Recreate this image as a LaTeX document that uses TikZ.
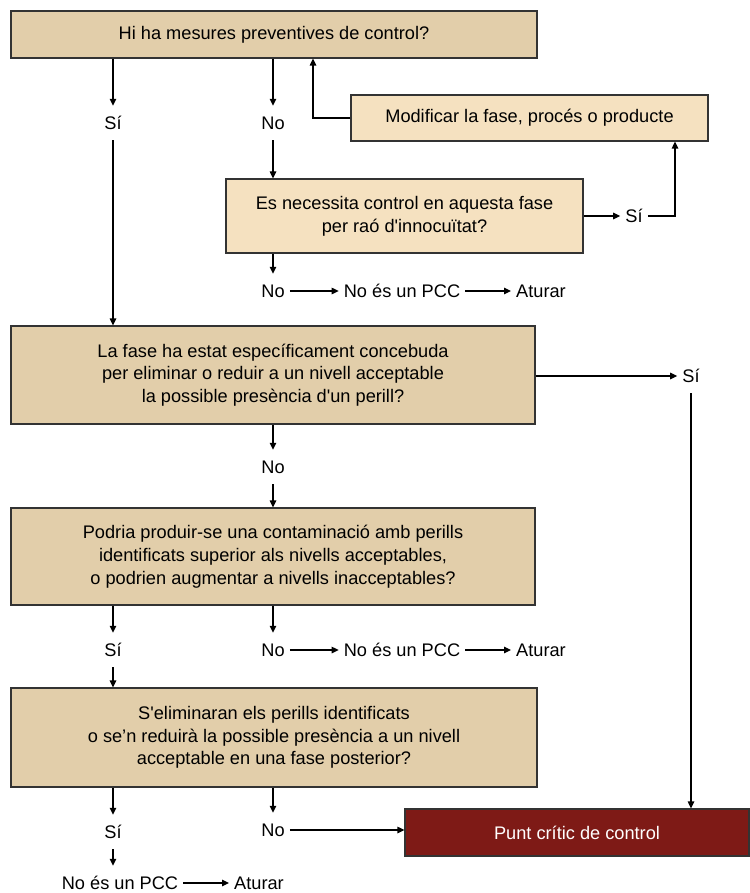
\documentclass[tikz,border=0pt]{standalone}
\usepackage{fontspec}
\setmainfont{Liberation Sans}[Ligatures=TeXOff]
\usetikzlibrary{arrows.meta}
\definecolor{tanD}{HTML}{E2CEAA}
\definecolor{tanL}{HTML}{F5E1C0}
\definecolor{pccred}{HTML}{7E1A16}
\definecolor{edge}{HTML}{333333}
\begin{document}
\begin{tikzpicture}[x=1pt,y=-1pt,
  font=\fontsize{18.2}{22.7}\selectfont,
  box/.style={draw=edge, line width=1.2pt, align=center, inner sep=0pt},
  dbox/.style={box, fill=tanD},
  lbox/.style={box, fill=tanL},
  lab/.style={inner xsep=5pt, inner ysep=10.5pt, text height=13pt, text depth=0pt},
  arr/.style={-{Triangle[length=7pt,width=6.5pt]}, line width=1.2pt, draw=black},
  ln/.style={line width=1.2pt, draw=black}]
\useasboundingbox (0,0) rectangle (749,893);

% boxes
\node[dbox, minimum width=526pt, minimum height=47pt] (q1) at (274,34.5) {Hi ha mesures preventives de control?};
\node[lbox, minimum width=357pt, minimum height=46pt] (mod) at (529.5,118) {Modificar la fase, procés o producte};
\node[lbox, minimum width=357pt, minimum height=74pt] (q2) at (404.5,216) {Es necessita control en aquesta fase\\per raó d'innocuïtat?};
\node[dbox, minimum width=524pt, minimum height=98pt] (q3) at (273,375) {La fase ha estat específicament concebuda\\per eliminar o reduir a un nivell acceptable\\la possible presència d'un perill?};
\node[dbox, minimum width=524pt, minimum height=97pt] (q4) at (273,556.5) {Podria produir-se una contaminació amb perills\\identificats superior als nivells acceptables,\\o podrien augmentar a nivells inacceptables?};
\node[dbox, minimum width=526pt, minimum height=99pt] (q5) at (274,737.5) {S'eliminaran els perills identificats\\o se’n reduirà la possible presència a un nivell\\acceptable en una fase posterior?};
\node[box, fill=pccred, text=white, minimum width=344pt, minimum height=47pt] (pcc) at (577,832.5) {Punt crític de control};

% labels
\node[lab] (s1) at (113,123) {Sí};
\node[lab] (n1) at (273,123) {No};
\node[lab] (s2) at (634,216) {Sí};
\node[lab] (n2) at (273,291) {No};
\node[lab] (p2) at (402,291) {No és un PCC};
\node[lab] (a2) at (541,291) {Aturar};
\node[lab] (s3) at (691,376) {Sí};
\node[lab] (n3) at (273,467) {No};
\node[lab] (s4) at (113,650) {Sí};
\node[lab] (n4) at (273,650) {No};
\node[lab] (p4) at (402,650) {No és un PCC};
\node[lab] (a4) at (541,650) {Aturar};
\node[lab] (s5) at (113,832) {Sí};
\node[lab] (n5) at (273,830) {No};
\node[lab] (p5) at (120,883) {No és un PCC};
\node[lab] (a5) at (259,883) {Aturar};
\coordinate (k1) at (313,118);
\coordinate (k2) at (675,216);

% connectors
\draw[arr] (s1.north |- q1.south) -- (s1.north);
\draw[arr] (s1.south) -- (s1.south |- q3.north);
\draw[arr] (n1.north |- q1.south) -- (n1.north);
\draw[arr] (n1.south) -- (n1.south |- q2.north);
\draw[arr] (mod.west) -- (k1) -- (k1 |- q1.south);
\draw[arr] (q2.east) -- (s2.west);
\draw[arr] (s2.east) -- (k2) -- (k2 |- mod.south);
\draw[arr] (n2.north |- q2.south) -- (n2.north);
\draw[arr] (n2.east) -- (p2.west);
\draw[arr] (p2.east) -- (a2.west);
\draw[arr] (q3.east |- s3.west) -- (s3.west);
\draw[arr] (s3.south) -- (s3.south |- pcc.north);
\draw[arr] (n3.north |- q3.south) -- (n3.north);
\draw[arr] (n3.south) -- (n3.south |- q4.north);
\draw[arr] (s4.north |- q4.south) -- (s4.north);
\draw[arr] (s4.south) -- (s4.south |- q5.north);
\draw[arr] (n4.north |- q4.south) -- (n4.north);
\draw[arr] (n4.east) -- (p4.west);
\draw[arr] (p4.east) -- (a4.west);
\draw[arr] (s5.north |- q5.south) -- (s5.north);
\draw[arr] (s5.south) -- (s5.south |- p5.north);
\draw[arr] (p5.east) -- (a5.west);
\draw[arr] (n5.north |- q5.south) -- (n5.north);
\draw[arr] (n5.east) -- (pcc.west |- n5.east);
\end{tikzpicture}
\end{document}
